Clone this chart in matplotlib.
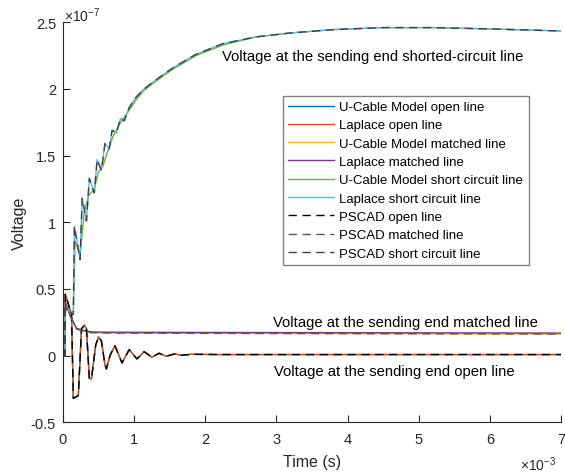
import matplotlib
matplotlib.use('agg')
import matplotlib.pyplot as plt

plt.rcParams['font.family'] = ['Liberation Sans', 'DejaVu Sans']
plt.rcParams['mathtext.fontset'] = 'custom'
plt.rcParams['mathtext.rm'] = 'Liberation Sans'

# time in ms (x 1e-3 s), voltage in units of 1e-7
t_open = [0, 0.03, 0.032, 0.12, 0.145, 0.215, 0.26, 0.30, 0.33, 0.37, 0.40, 0.46,
          0.50, 0.54, 0.59, 0.61, 0.66, 0.73, 0.83, 0.93, 1.04, 1.14, 1.25, 1.35,
          1.45, 1.57, 1.66, 1.8, 2.2, 3.0, 4.0, 5.0, 6.0, 7.0]
v_open = [0, 0, 0.46, 0.31, -0.32, -0.30, 0.20, 0.23, 0.20, -0.17, -0.175, 0.08,
          0.14, 0.11, -0.07, -0.10, 0.0, 0.075, -0.055, 0.045, -0.025, 0.03, -0.012, 0.018,
          -0.005, 0.013, 0.002, 0.01, 0.008, 0.008, 0.008, 0.008, 0.008, 0.008]

t_matched = [0, 0.03, 0.032, 0.10, 0.19, 0.28, 0.40, 0.6, 1.0, 2.0, 3.0, 4.0, 5.0, 6.0, 7.0]
v_matched = [0, 0, 0.40, 0.30, 0.20, 0.185, 0.172, 0.17, 0.168, 0.167, 0.166, 0.165, 0.164, 0.163, 0.162]
v_matched_lap = [0, 0, 0.40, 0.30, 0.205, 0.19, 0.178, 0.176, 0.175, 0.174, 0.173, 0.172, 0.171, 0.170, 0.169]

t_short = [0, 0.03, 0.032, 0.05, 0.13, 0.145, 0.16, 0.24, 0.27, 0.33, 0.37, 0.44, 0.48,
           0.54, 0.59, 0.65, 0.69, 0.75, 0.81, 0.86, 0.93, 1.03, 1.14, 1.31, 1.55,
           1.87, 2.25, 2.71, 3.2, 3.8, 4.5, 5.2, 6.0, 7.0]
v_short = [0, 0, 0.33, 0.36, 0.31, 0.31, 0.97, 0.72, 1.18, 1.01, 1.33, 1.22, 1.47,
           1.39, 1.59, 1.55, 1.69, 1.67, 1.78, 1.76, 1.86, 1.94, 2.0, 2.07, 2.16,
           2.26, 2.34, 2.39, 2.42, 2.445, 2.46, 2.46, 2.45, 2.435]

t_short_uc = [0, 0.03, 0.032, 0.05, 0.13, 0.145, 0.17, 0.24, 0.30, 0.36, 0.44, 0.50,
              0.56, 0.62, 0.70, 0.80, 0.93, 1.03, 1.14, 1.31, 1.55, 1.87, 2.25,
              2.71, 3.2, 3.8, 4.5, 5.2, 6.0, 7.0]
v_short_uc = [0, 0, 0.33, 0.36, 0.31, 0.31, 0.86, 0.76, 1.08, 1.20, 1.25, 1.38,
              1.42, 1.52, 1.64, 1.74, 1.84, 1.92, 1.99, 2.06, 2.15, 2.25, 2.33,
              2.39, 2.42, 2.445, 2.46, 2.46, 2.45, 2.435]

fig = plt.figure(figsize=(5.65, 4.77), dpi=100)
ax = fig.add_axes([0.1115, 0.1126, 0.8814, 0.8386])

lw = 1.0
ax.plot(t_open, v_open, color='#0072BD', lw=lw, label='U-Cable Model open line')
ax.plot(t_open, v_open, color='#D95319', lw=lw, label='Laplace open line')
ax.plot(t_matched, v_matched, color='#EDB120', lw=lw, label='U-Cable Model matched line')
ax.plot(t_matched, v_matched_lap, color='#7E2F8E', lw=lw, label='Laplace matched line')
ax.plot(t_short_uc, v_short_uc, color='#77AC30', lw=lw, label='U-Cable Model short circuit line')
ax.plot(t_short, v_short, color='#4DBEEE', lw=lw, label='Laplace short circuit line')
ax.plot(t_open, v_open, color='k', lw=lw, ls=(0, (6, 4)), label='PSCAD open line')
ax.plot(t_matched, v_matched, color='0.35', lw=lw, ls=(0, (6, 4)), label='PSCAD matched line')
ax.plot(t_short, v_short, color='0.25', lw=lw, ls=(0, (6, 4)), label='PSCAD short circuit line')

ax.set_xlim(0, 7)
ax.set_ylim(-0.5, 2.5)
ax.set_xticks(range(8))
ax.set_yticks([-0.5, 0, 0.5, 1, 1.5, 2, 2.5])
ax.set_yticklabels(['-0.5', '0', '0.5', '1', '1.5', '2', '2.5'])
ax.tick_params(direction='in', length=5, width=0.8, colors='#262626', labelsize=10.5)
ax.tick_params(axis='x', pad=7)
ax.tick_params(axis='y', pad=5)
for s in ['top', 'right']:
    ax.spines[s].set_visible(False)
for s in ['left', 'bottom']:
    ax.spines[s].set_color('#262626')
    ax.spines[s].set_linewidth(0.8)

ax.set_xlabel('Time (s)', fontsize=11.5, color='#262626', labelpad=6)
ax.set_ylabel('Voltage', fontsize=11.5, color='#262626', labelpad=3)

fig.text(0.113, 0.968, r'$\times\mathregular{10^{-7}}$', fontsize=10, color='#262626',
         ha='left', va='center')
fig.text(0.920, 0.025, r'$\times\mathregular{10^{-3}}$', fontsize=10, color='#262626',
         ha='left', va='center')

ax.text(4.35, 2.245, 'Voltage at the sending end shorted-circuit line', fontsize=10.7,
        ha='center', va='center', color='k')
ax.text(4.82, 0.255, 'Voltage at the sending end matched line', fontsize=10.7,
        ha='center', va='center', color='k')
ax.text(4.66, -0.115, 'Voltage at the sending end open line', fontsize=10.7,
        ha='center', va='center', color='k')

leg = ax.legend(loc='upper left', bbox_to_anchor=(0.441, 0.8165), fontsize=9.5,
                frameon=True, fancybox=False, edgecolor='#808080', framealpha=1,
                handlelength=3.5, handletextpad=0.4, labelspacing=0.46, borderpad=0.4,
                borderaxespad=0)
leg.get_frame().set_linewidth(1.0)

fig.savefig('out.png', dpi=100)
